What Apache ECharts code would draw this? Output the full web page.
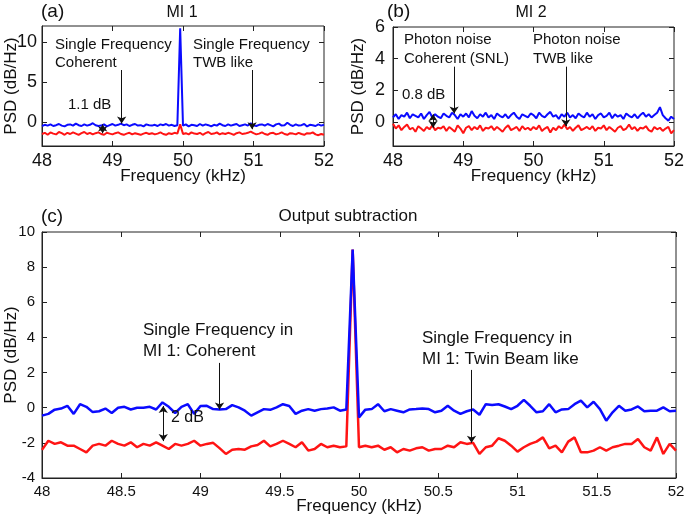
<!DOCTYPE html>
<html>
<head>
<meta charset="utf-8">
<script src="https://cdn.jsdelivr.net/npm/echarts@6/dist/echarts.min.js"></script>
<style>html,body{margin:0;padding:0;background:#fff}#c{width:685px;height:517px}</style>
</head>
<body>
<div id="c"></div>
<script>
// Frequency grid (kHz)
var freq = [48,48.04,48.08,48.12,48.16,48.2,48.24,48.28,48.32,48.36,
48.4,48.44,48.48,48.52,48.56,48.6,48.64,48.68,48.72,48.76,
48.8,48.84,48.88,48.92,48.96,49,49.04,49.08,49.12,49.16,
49.2,49.24,49.28,49.32,49.36,49.4,49.44,49.48,49.52,49.56,
49.6,49.64,49.68,49.72,49.76,49.8,49.84,49.88,49.92,49.96,
50,50.04,50.08,50.12,50.16,50.2,50.24,50.28,50.32,50.36,
50.4,50.44,50.48,50.52,50.56,50.6,50.64,50.68,50.72,50.76,
50.8,50.84,50.88,50.92,50.96,51,51.04,51.08,51.12,51.16,
51.2,51.24,51.28,51.32,51.36,51.4,51.44,51.48,51.52,51.56,
51.6,51.64,51.68,51.72,51.76,51.8,51.84,51.88,51.92,51.96,
52];

// (a) MI 1
var mi1Blue = [-0.5,-0.35,-0.45,-0.3,-0.5,-0.4,-0.25,-0.45,-0.55,-0.35,
-0.3,-0.45,-0.2,-0.4,-0.5,-0.3,-0.45,-0.35,-0.15,-0.4,
-0.5,-0.45,-0.3,-0.55,-0.4,-0.25,-0.45,-0.35,-0.2,-0.4,
-0.3,-0.5,-0.35,-0.25,-0.45,-0.4,-0.55,-0.3,-0.4,-0.45,
-0.35,-0.5,-0.3,-0.4,-0.25,-0.45,-0.35,-0.5,-0.4,11.7,
-0.45,-0.3,-0.55,-0.35,-0.4,-0.5,-0.25,-0.45,-0.3,-0.4,
-0.55,-0.35,-0.45,-0.2,-0.4,-0.5,-0.3,-0.45,-0.35,-0.25,
-0.5,-0.4,-0.3,-0.45,-0.15,-0.4,-0.5,-0.35,-0.3,-0.45,
-0.25,-0.4,-0.55,-0.3,-0.2,-0.45,-0.4,-0.1,-0.35,-0.5,
-0.3,-0.45,-0.4,-0.25,-0.55,-0.35,-0.4,-0.5,-0.3,-0.45,
-0.35];
var mi1Red = [-1.5,-1.35,-1.6,-1.3,-1.45,-1.55,-1.25,-1.4,-1.6,-1.35,
-1.5,-1.3,-1.45,-1.6,-1.4,-1.25,-1.5,-1.35,-1.55,-1.4,
-1.3,-1.5,-1.6,-1.35,-1.45,-1.55,-1.4,-1.3,-1.5,-1.6,
-1.45,-1.35,-1.55,-1.4,-1.5,-1.6,-1.45,-1.35,-1.5,-1.4,
-1.55,-1.45,-1.3,-1.5,-1.6,-1.4,-1.5,-1.35,-1.45,-0.3,
-1.5,-1.4,-1.55,-1.3,-1.45,-1.5,-1.35,-1.6,-1.4,-1.25,
-1.5,-1.45,-1.3,-1.55,-1.4,-1.5,-1.35,-1.45,-1.6,-1.4,
-1.3,-1.5,-1.45,-1.35,-1.2,-1.4,-1.55,-1.45,-1.3,-1.5,
-1.6,-1.4,-1.35,-1.55,-1.45,-1.3,-1.5,-1.6,-1.4,-1.45,
-1.55,-1.35,-1.5,-1.6,-1.4,-1.45,-1.3,-1.55,-1.65,-1.5,
-1.6];

// (b) MI 2
var mi2Blue = [0.3,0.5,0.2,0.45,0.35,0.6,0.25,0.5,0.4,0.3,
0.55,0.2,0.45,0.65,0.3,0.5,0.35,0.25,0.55,0.4,
0.3,0.6,0.45,0.2,0.5,0.35,0.55,0.3,0.7,0.4,
0.25,0.5,0.35,0.6,0.3,0.45,0.2,0.55,0.4,0.3,
0.5,0.25,0.45,0.6,0.35,0.2,0.5,0.4,0.3,0.55,
0.45,0.25,0.6,0.4,0.3,0.5,0.65,0.35,0.45,0.2,
0.5,0.35,0.6,0.3,0.45,0.25,0.55,0.4,0.3,0.6,
0.35,0.5,0.2,0.45,0.55,0.3,0.4,0.6,0.25,0.5,
0.35,0.45,0.2,0.55,0.4,0.3,0.5,0.25,0.45,0.6,
0.35,0.5,0.3,0.45,0.6,0.95,0.45,0.25,0.1,0.35,
0.2];
var mi2Red = [-0.1,-0.4,-0.2,-0.5,-0.3,-0.15,-0.45,-0.35,-0.6,-0.25,
-0.4,-0.55,-0.3,-0.45,-0.2,-0.5,-0.35,-0.4,-0.25,-0.55,
-0.3,-0.45,-0.6,-0.2,-0.4,-0.7,-0.35,-0.25,-0.5,-0.3,
-0.45,-0.2,-0.55,-0.35,-0.4,-0.25,-0.5,-0.3,-0.45,-0.6,
-0.35,-0.2,-0.5,-0.4,-0.3,-0.55,-0.25,-0.45,-0.35,-0.5,
-0.3,-0.45,-0.2,-0.55,-0.4,-0.3,-0.65,-0.35,-0.5,-0.25,
-0.4,-0.15,-0.45,-0.3,-0.55,-0.35,-0.2,-0.5,-0.4,-0.3,
-0.45,-0.25,-0.55,-0.35,-0.4,-0.2,-0.5,-0.3,-0.45,-0.6,
-0.35,-0.25,-0.5,-0.4,-0.15,-0.45,-0.3,-0.55,-0.35,-0.4,
-0.25,-0.5,-0.6,-0.3,-0.45,-0.35,-0.55,-0.4,-0.3,-0.7,
-0.5];

// (c) Output subtraction
var subBlue = [-0.45,-0.35,-0.11,-0.05,0.11,-0.35,0.2,0.05,-0.25,-0.2,
-0.05,-0.3,0,0.05,-0.1,0,0,0.05,-0.1,0.3,
0.05,-0.3,0.05,0.2,-0.35,0.1,0.11,-0.08,-0.1,-0.08,
0.15,0.02,-0.17,-0.45,-0.26,-0.08,-0.12,0.02,0.2,0.1,
-0.35,-0.17,-0.08,-0.17,-0.08,-0.04,0.02,-0.17,-0.1,9.0,
-0.55,-0.11,-0.08,0.2,-0.2,-0.08,-0.17,-0.26,-0.1,-0.08,
-0.05,-0.08,-0.26,-0.17,0.11,-0.17,-0.35,-0.2,-0.1,-0.4,
0.2,0.15,0.2,0.07,-0.08,0.11,0.45,0.11,-0.26,-0.2,
0.2,-0.26,-0.1,-0.08,0.2,0.4,0.02,0.34,-0.08,-0.74,
-0.26,0.11,-0.17,-0.1,0.07,-0.2,-0.17,-0.17,0.02,-0.2,
-0.17];
var subRed = [-2.4,-1.88,-2.06,-1.97,-2.16,-2.16,-2.35,-2.54,-2.16,-2.06,
-2.16,-1.88,-2.06,-2.16,-1.97,-2.25,-2.06,-2.16,-1.97,-2.16,
-2.35,-2.06,-2.16,-2.06,-1.88,-2.16,-2.06,-2.0,-2.3,-2.63,
-2.39,-2.35,-2.39,-2.2,-2.12,-1.88,-2.2,-2.06,-1.88,-2.06,
-2.25,-1.97,-2.44,-2.35,-2.06,-2.25,-2.16,-2.25,-2.2,9.0,
-2.25,-2.16,-2.25,-2.16,-2.39,-2.25,-2.54,-2.35,-2.44,-2.31,
-2.25,-2.44,-2.35,-2.35,-2.16,-2.25,-1.97,-2.06,-2.0,-2.63,
-2.25,-2.16,-1.74,-1.88,-2.16,-2.5,-2.25,-2.06,-1.93,-1.69,
-2.31,-2.16,-2.54,-1.93,-1.69,-2.54,-2.54,-2.44,-2.25,-2.44,
-2.25,-2.16,-2.06,-2.06,-1.78,-2.25,-2.44,-1.69,-2.63,-2.06,
-2.44];

// Tick values
var yTicksA = [0, 5, 10];
var yTicksB = [0, 2, 4, 6];

// Annotation arrows: [x, yStart, yEnd]
var arrowsA = [[49.13, 6.5, -0.2], [50.98, 6.5, -0.9]];
var dblA = [48.86, -0.3, -1.4];
var arrowsB = [[48.87, 3.5, 0.55], [50.46, 3.5, -0.25]];
var dblB = [48.57, 0.5, -0.35];
var arrowsC = [[49.12, 2.55, -0.1], [50.71, 2.15, -2.0]];
var dblC = [48.765, 0.1, -1.9];

var BLUE = '#0b0bff', RED = '#ff1414';
var FONT = '"Liberation Sans", Arial, sans-serif';

function pairs(v) { return freq.map(function (f, i) { return [f, v[i]]; }); }

var grids = [
  {left: 42, top: 26, width: 282, height: 120},
  {left: 393, top: 27, width: 281, height: 119},
  {left: 42, top: 232, width: 634, height: 246}
];
grids.forEach(function (g) {
  g.show = true; g.borderColor = '#222'; g.borderWidth = 1;
  g.containLabel = false; g.outerBoundsMode = 'none';
});

function xAx(gi, fs, interval, gap) {
  return {
    type: 'value', gridIndex: gi, min: 48, max: 52, interval: interval,
    position: 'bottom',
    name: 'Frequency (kHz)', nameLocation: 'middle', nameGap: gap, nameMoveOverlap: false,
    nameTextStyle: {fontFamily: FONT, fontSize: 17, color: '#111'},
    axisLine: {show: true, onZero: false, lineStyle: {color: '#222', width: 1}},
    axisTick: {show: true, inside: true, length: 5, lineStyle: {color: '#222'}},
    axisLabel: {show: true, fontFamily: FONT, fontSize: fs, color: '#111', margin: 6},
    splitLine: {show: false}
  };
}
function xAxTop(gi, interval) {
  return {
    type: 'value', gridIndex: gi, min: 48, max: 52, interval: interval, position: 'top',
    axisLine: {show: false, onZero: false},
    axisTick: {show: true, inside: true, length: 5, lineStyle: {color: '#222'}},
    axisLabel: {show: false}, splitLine: {show: false}
  };
}
function yAx(gi, min, max, custom, interval, fs, gap, margin) {
  var a = {
    type: 'value', gridIndex: gi, min: min, max: max, position: 'left',
    name: 'PSD (dB/Hz)', nameLocation: 'middle', nameGap: gap, nameRotate: 90, nameMoveOverlap: false,
    nameTextStyle: {fontFamily: FONT, fontSize: 17, color: '#111'},
    axisLine: {show: true, onZero: false, lineStyle: {color: '#222', width: 1}},
    axisTick: {show: true, inside: true, length: 5, lineStyle: {color: '#222'}},
    axisLabel: {show: true, fontFamily: FONT, fontSize: fs, color: '#111', margin: margin},
    splitLine: {show: false}
  };
  if (custom) {
    a.axisTick.customValues = custom;
    a.axisLabel.customValues = custom;
  } else {
    a.interval = interval;
  }
  return a;
}
function yAxRight(gi, min, max, custom, interval) {
  var a = {
    type: 'value', gridIndex: gi, min: min, max: max, position: 'right',
    axisLine: {show: false, onZero: false},
    axisTick: {show: true, inside: true, length: 5, lineStyle: {color: '#222'}},
    axisLabel: {show: false}, splitLine: {show: false}
  };
  if (custom) { a.axisTick.customValues = custom; a.axisLabel.customValues = custom; }
  else a.interval = interval;
  return a;
}

var xAxis = [
  xAx(0, 18, 1, 22), xAx(1, 18, 1, 22), xAx(2, 15, 0.5, 20),
  xAxTop(0, 1), xAxTop(1, 1), xAxTop(2, 0.5)
];
var yAxis = [
  yAx(0, -3, 12, yTicksA, null, 18, 22, 5),
  yAx(1, -1.5, 6, yTicksB, null, 18, 26, 8),
  yAx(2, -4, 10, null, 2, 15, 22, 7),
  yAxRight(0, -3, 12, yTicksA), yAxRight(1, -1.5, 6, yTicksB), yAxRight(2, -4, 10, null, 2)
];

function lineSeries(gi, v, color, w, z) {
  return {
    type: 'line', xAxisIndex: gi, yAxisIndex: gi, data: pairs(v), showSymbol: false, symbol: 'none',
    lineStyle: {color: color, width: w}, itemStyle: {color: color}, z: z, silent: true, animation: false
  };
}
function arrowSeries(gi, singles, dbl) {
  var d = singles.map(function (a) {
    return [{coord: [a[0], a[1]], symbol: 'none'}, {coord: [a[0], a[2]], symbol: 'arrow'}];
  });
  d.push([{coord: [dbl[0], dbl[1]], symbol: 'arrow'}, {coord: [dbl[0], dbl[2]], symbol: 'arrow'}]);
  return {
    type: 'line', xAxisIndex: gi, yAxisIndex: gi, data: [], z: 10, silent: true, animation: false,
    markLine: {
      silent: true, animation: false, symbolSize: 7, precision: 4,
      label: {show: false}, emphasis: {disabled: true},
      lineStyle: {color: '#111', width: 1, type: 'solid'},
      data: d
    }
  };
}

var series = [
  lineSeries(0, mi1Red, RED, 2, 2), lineSeries(0, mi1Blue, BLUE, 2, 3),
  lineSeries(1, mi2Red, RED, 2, 2), lineSeries(1, mi2Blue, BLUE, 2, 3),
  lineSeries(2, subRed, RED, 2.5, 2), lineSeries(2, subBlue, BLUE, 2.5, 3),
  arrowSeries(0, arrowsA, dblA), arrowSeries(1, arrowsB, dblB), arrowSeries(2, arrowsC, dblC)
];

function txt(t, x, y, fs, align) {
  return {type: 'text', x: x, y: y, silent: true, z: 20,
    style: {text: t, font: fs + 'px ' + FONT, fill: '#111', align: align || 'left', verticalAlign: 'middle'}};
}
var graphic = [
  txt('(a)', 41, 12, 19), txt('MI 1', 182, 13, 16, 'center'),
  txt('Single Frequency', 55, 45, 15), txt('Coherent', 55, 63, 15),
  txt('Single Frequency', 193, 45, 15), txt('TWB like', 193, 63, 15),
  txt('1.1 dB', 68, 105, 15),
  txt('(b)', 387, 12, 19), txt('MI 2', 531, 13, 16, 'center'),
  txt('Photon noise', 404, 40, 15), txt('Coherent (SNL)', 404, 59, 15),
  txt('Photon noise', 533, 40, 15), txt('TWB like', 533, 59, 15),
  txt('0.8 dB', 402, 95, 15),
  txt('(c)', 41, 217, 19), txt('Output subtraction', 348, 216, 17, 'center'),
  txt('Single Frequency in', 143, 330, 17), txt('MI 1: Coherent', 143, 351, 17),
  txt('2 dB', 171, 418, 16),
  txt('Single Frequency in', 422, 338, 17), txt('MI 1: Twin Beam like', 422, 359, 17)
];

var chart = echarts.init(document.getElementById('c'), null, {renderer: 'canvas'});
chart.setOption({
  backgroundColor: '#fff', animation: false,
  grid: grids, xAxis: xAxis, yAxis: yAxis, series: series, graphic: graphic
});
</script>
</body>
</html>
